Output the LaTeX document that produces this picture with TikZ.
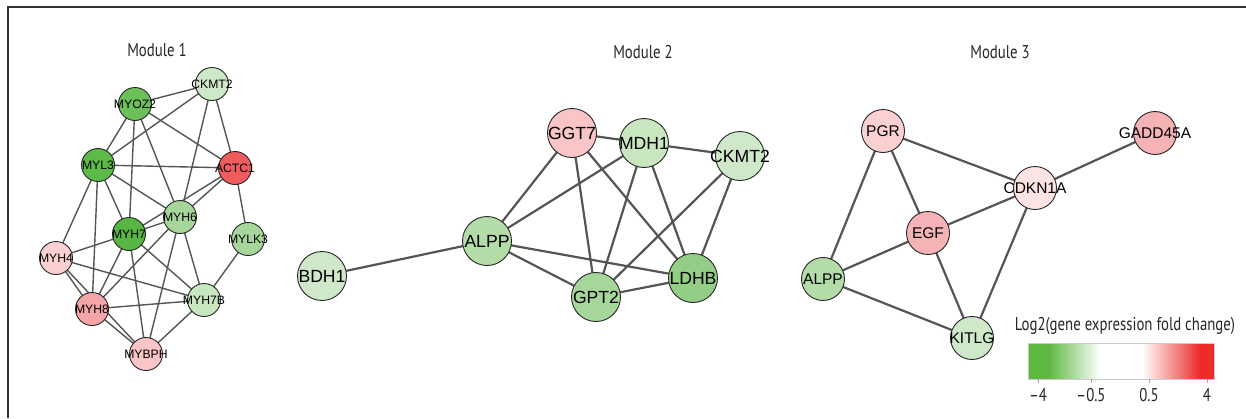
\documentclass[tikz,border=0pt]{standalone}
\usepackage{fontspec}
\setmainfont{Liberation Sans}
\newfontfamily\titlefont[FakeStretch=0.8]{PT Sans}
\usetikzlibrary{backgrounds}
\definecolor{edgec}{HTML}{555555}
\definecolor{gA}{HTML}{CFE8C9}
\definecolor{gB}{HTML}{6CC05A}
\definecolor{gC}{HTML}{5DB948}
\definecolor{gD}{HTML}{57B541}
\definecolor{gE}{HTML}{A6D69A}
\definecolor{gF}{HTML}{C8E6C0}
\definecolor{gG}{HTML}{B3DCA9}
\definecolor{gH}{HTML}{94CE86}
\definecolor{rA}{HTML}{EF5C5E}
\definecolor{rB}{HTML}{FBD0D0}
\definecolor{rC}{HTML}{F5A4A7}
\definecolor{rD}{HTML}{F9C5C6}
\definecolor{rE}{HTML}{FDE3E3}
\definecolor{rF}{HTML}{F6B3B5}
\definecolor{legG}{HTML}{5CB83F}
\definecolor{legR}{HTML}{EE2A2A}
\newcommand\mk[1]{\makebox[0pt]{#1}}
\tikzset{
  gnode/.style={circle, draw=black!85, line width=0.9pt, inner sep=0pt},
  mA/.style={gnode, minimum size=33pt, font=\fontsize{12.2}{13}\selectfont},
  mB/.style={gnode, minimum size=49pt, font=\fontsize{17.6}{18}\selectfont},
  mC/.style={gnode, minimum size=43pt, font=\fontsize{15.5}{16}\selectfont},
  edA/.style={draw=edgec, line width=1.4pt},
  edB/.style={draw=edgec, line width=2.2pt},
  title/.style={font=\titlefont\fontsize{18.5}{19}\selectfont, text=black!85},
}
\begin{document}
\begin{tikzpicture}[x=1pt,y=-1pt]
\useasboundingbox (0,0) rectangle (1246,418);
\draw[black!80, line width=1.3pt] (8,418) -- (8,7) -- (1246,7);

% titles
\node[title] (t1) at (157,50) {Module 1};
\node[title] (t2) at (643,52) {Module 2};
\node[title] (t3) at (1000,52) {Module 3};

% Module 1
\node[mA, fill=gA] (a1) at (212,84) {\mk{CKMT2}};
\node[mA, fill=gB] (myoz2) at (135,104) {\mk{MYOZ2}};
\node[mA, fill=gC] (myl3) at (98,165) {\mk{MYL3}};
\node[mA, fill=rA] (actc1) at (235,168) {\mk{ACTC1}};
\node[mA, fill=gE] (myh6) at (180,217) {\mk{MYH6}};
\node[mA, fill=gD] (myh7) at (129,234) {\mk{MYH7}};
\node[mA, fill=gE] (mylk3) at (248,239) {\mk{MYLK3}};
\node[mA, fill=rB] (myh4) at (56,258) {\mk{MYH4}};
\node[mA, fill=rC] (myh8) at (92,309) {\mk{MYH8}};
\node[mA, fill=gF] (myh7b) at (204,300) {\mk{MYH7B}};
\node[mA, fill=rD] (mybph) at (146,354) {\mk{MYBPH}};

% Module 2
\node[mB, fill=gA] (bdh1) at (322,276) {\mk{BDH1}};
\node[mB, fill=gG] (alpp) at (487,241) {\mk{ALPP}};
\node[mB, fill=rD] (ggt7) at (572,133) {\mk{GGT7}};
\node[mB, fill=gF] (mdh1) at (644,143) {\mk{MDH1}};
\node[mB, fill=gA] (ckmt2) at (740,156) {\mk{CKMT2}};
\node[mB, fill=gE] (gpt2) at (596,297) {\mk{GPT2}};
\node[mB, fill=gH] (ldhb) at (693,278) {\mk{LDHB}};

% Module 3
\node[mC, fill=rB] (pgr) at (883,131) {\mk{PGR}};
\node[mC, fill=rE] (cdkn1a) at (1035,188) {\mk{CDKN1A}};
\node[mC, fill=rF] (egf) at (928,233) {\mk{EGF}};
\node[mC, fill=rF] (gadd) at (1155,133) {\mk{GADD45A}};
\node[mC, fill=gG] (alpp3) at (823,279) {\mk{ALPP}};
\node[mC, fill=gA] (kitlg) at (972,338) {\mk{KITLG}};

\begin{scope}[on background layer]
  \foreach \u/\v in {a1/myoz2, a1/myl3, a1/myh6, a1/actc1, myoz2/myl3, myoz2/actc1,
      myoz2/myh6, myoz2/myh7, myl3/actc1, myl3/myh6, myl3/myh7, myl3/myh4, myl3/myh8,
      actc1/myh6, actc1/myh7, actc1/mylk3, myh6/myh7, myh6/myh8, myh6/mybph, myh6/myh7b,
      myh7/myh4, myh7/myh8, myh7/mybph, myh7/myh7b, myh4/myh8, myh4/mybph, myh4/myh7b,
      myh8/myh7b, myh8/mybph, mybph/myh7b, mylk3/myh7b}
    \draw[edA] (\u.center) -- (\v.center);
  \foreach \u/\v in {bdh1/alpp, alpp/ggt7, alpp/mdh1, alpp/ldhb, alpp/gpt2, ggt7/mdh1,
      ggt7/gpt2, ggt7/ldhb, mdh1/ckmt2, mdh1/gpt2, mdh1/ldhb, ckmt2/gpt2, ckmt2/ldhb,
      gpt2/ldhb, pgr/cdkn1a, pgr/egf, pgr/alpp3, egf/cdkn1a, egf/alpp3, egf/kitlg,
      alpp3/kitlg, cdkn1a/kitlg, cdkn1a/gadd}
    \draw[edB] (\u.center) -- (\v.center);
\end{scope}

% legend
\node[title] (legt) at (1125,326) {Log2(gene expression fold change)};
\fill[legG] (1028,343) rectangle (1048,379);
\shade[left color=legG, right color=white] (1048,343) rectangle (1100,379);
\shade[left color=white, right color=legR] (1142,343) rectangle (1200,379);
\fill[legR] (1200,343) rectangle (1214,379);
\coordinate (barA) at (1028,343);
\coordinate (barB) at (1214,379);
\draw[black!20, line width=0.8pt] (barA) rectangle (barB);
\foreach \x/\l in {1038/{–4}, 1091/{–0.5}, 1149/{0.5}, 1207/{4}} {
  \draw[black!35, line width=1pt] (\x,379) -- (\x,383);
  \node[title] at (\x,395) {\l};
}
\end{tikzpicture}
\end{document}
